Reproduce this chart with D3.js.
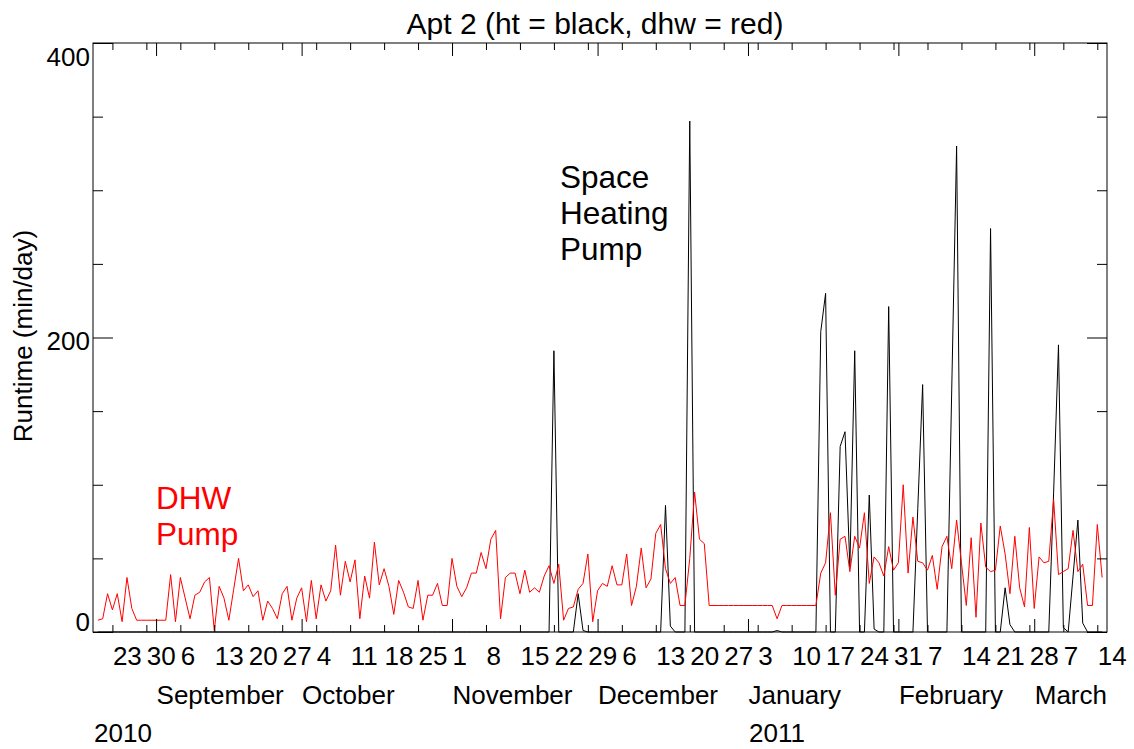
<!DOCTYPE html>
<html>
<head>
<meta charset="utf-8">
<script src="https://cdn.jsdelivr.net/npm/d3@7"></script>
<style>
  html, body { margin: 0; padding: 0; background: #fff; }
  svg { display: block; }
  text { font-family: "Liberation Sans", Arial, Helvetica, sans-serif; }
</style>
</head>
<body>
<svg id="chart" width="1134" height="749"></svg>
<script>
// Daily pump runtime, Apt 2, starting 2010-08-20 (one value per day, min/day)
const firstDay = "2010-08-20";

// Domestic hot water pump (red)
const dhwRuntime = [
  8, 9, 26, 15, 26, 7, 37, 16, 8, 8, 8, 8, 8, 8, 8, 39, 7, 37, 23, 9,
  25, 27, 34, 37, 1, 31, 23, 8, 29, 50, 28, 32, 24, 28, 8, 21, 16, 9, 26, 31,
  8, 23, 30, 7, 35, 9, 32, 21, 28, 59, 25, 48, 34, 49, 9, 38, 23,
  61, 32, 43, 31, 12, 35, 27, 17, 16, 35, 8, 25, 25, 33, 18, 18, 50, 31, 24, 30,
  40, 40, 54, 43, 63, 69, 9, 37, 40, 40, 26, 42, 27, 30, 27, 38, 45, 33, 46, 8,
  16, 17, 29, 33, 53, 7, 28, 33, 31, 45, 32, 32, 53, 18, 31, 57, 30, 36, 67, 73,
  43, 33, 37, 18, 18, 50, 95, 63, 60,
  18, 18, 18, 18, 18, 18, 18, 18, 18, 18, 18, 18, 18, 18,
  9,
  18, 18, 18, 18, 18, 18, 18, 18,
  40, 47, 81, 25, 63, 65, 41, 65, 57, 81, 33, 51, 47, 38, 58, 42, 47, 100, 40, 78,
  48, 47, 42, 52, 29, 58, 65, 43, 76, 47, 18, 64, 10, 74, 44, 41, 42, 72, 53, 26,
  65, 30, 17, 71, 16, 51, 47, 48, 90, 39, 41, 43, 69, 41, 46, 18, 18, 73, 37
];

// Space heating pump (black)
const heatingRuntime = [
  0, 0, 0, 0, 0, 0, 0, 0, 0, 0, 0, 0, 0, 0, 0, 0, 0, 0, 0, 0,
  0, 0, 0, 0, 0, 0, 0, 0, 0, 0, 0, 0, 0, 0, 0, 0, 0, 0, 0, 0,
  0, 0, 0, 0, 0, 0, 0, 0, 0, 0, 0, 0, 0, 0, 0, 0, 0, 0, 0, 0,
  0, 0, 0, 0, 0, 0, 0, 0, 0, 0, 0, 0, 0, 0, 0, 0, 0, 0, 0, 0,
  0, 0, 0, 0, 0, 0, 0, 0, 0, 0, 0, 0, 0, 0, 191, 0, 0, 0, 0, 26,
  1, 0, 0, 0, 0, 0, 0, 0, 0, 0, 0, 0, 0, 0, 0, 0, 0, 86, 4, 0,
  0, 0, 347, 0, 0, 0, 0, 0, 0, 0, 0, 0, 0, 0, 0, 0, 0, 0, 0, 0,
  1, 0, 0, 0, 0, 0, 0, 0, 0, 204, 230, 0, 0, 126, 136, 44, 191, 0, 0, 93,
  2, 0, 0, 221, 0, 0, 0, 0, 0, 84, 168, 0, 0, 0, 0, 0, 165, 330, 0, 0,
  0, 0, 0, 0, 274, 0, 0, 30, 5, 0, 0, 0, 0, 0, 0, 0, 0, 95, 195, 3,
  0, 38, 76, 6, 0, 0, 0, 0
];

// Axis extent and labels
const axisStart = "2010-08-19";
const axisEnd = "2011-03-16";
const weekTicks = [
  "2010-08-23", "2010-08-30", "2010-09-06", "2010-09-13", "2010-09-20", "2010-09-27",
  "2010-10-04", "2010-10-11", "2010-10-18", "2010-10-25", "2010-11-01", "2010-11-08",
  "2010-11-15", "2010-11-22", "2010-11-29", "2010-12-06", "2010-12-13", "2010-12-20",
  "2010-12-27", "2011-01-03", "2011-01-10", "2011-01-17", "2011-01-24", "2011-01-31",
  "2011-02-07", "2011-02-14", "2011-02-21", "2011-02-28", "2011-03-07", "2011-03-14"
];
const monthTicks = ["2010-09-01", "2010-10-01", "2010-11-01", "2010-12-01", "2011-01-01", "2011-02-01", "2011-03-01"];
const monthLabels = ["September", "October", "November", "December", "January", "February", "March"];
const yearTicks = ["2010-08-19", "2011-01-01"];
const yearLabels = ["2010", "2011"];
const yMajorTicks = [0, 200, 400];
const yMinorTicks = [50, 100, 150, 250, 300, 350];

const parse = d3.timeParse("%Y-%m-%d");
const start = parse(firstDay);
const days = dhwRuntime.map((_, i) => d3.timeDay.offset(start, i));

const svg = d3.select("#chart");
svg.append("rect").attr("width", 1134).attr("height", 749).attr("fill", "#fff");

const plotLeft = 93, plotRight = 1107, plotTop = 43, plotBottom = 632;
const x = d3.scaleTime().domain([parse(axisStart), parse(axisEnd)]).range([plotLeft, plotRight]);
const y = d3.scaleLinear().domain([0, 400]).range([plotBottom, plotTop]);

// Data lines
const line = d3.line().x((d, i) => x(days[i])).y(d => y(d));
svg.append("path").datum(heatingRuntime)
  .attr("d", line).attr("fill", "none").attr("stroke", "#000").attr("stroke-width", 1);
svg.append("path").datum(dhwRuntime)
  .attr("d", line).attr("fill", "none").attr("stroke", "#ff0000").attr("stroke-width", 1);

// Frame
svg.append("rect").attr("x", plotLeft).attr("y", plotTop)
  .attr("width", plotRight - plotLeft).attr("height", plotBottom - plotTop)
  .attr("fill", "none").attr("stroke", "#000").attr("stroke-width", 1);

function styleAxis(g) {
  g.select(".domain").remove();
  g.selectAll("line").attr("stroke", "#000");
}

const weeks = weekTicks.map(parse);
const months = monthTicks.map(parse);
const labelFont = "Liberation Sans, Arial, sans-serif";

// Bottom: weekly ticks with day numbers
const gBottom = svg.append("g").attr("transform", `translate(0,${plotBottom})`)
  .call(d3.axisBottom(x).tickValues(weeks).tickSize(-7).tickFormat(d3.timeFormat("%-d")));
styleAxis(gBottom);
gBottom.selectAll("text")
  .attr("y", 33).attr("dy", 0).attr("text-anchor", "start")
  .attr("font-size", 26).attr("font-family", labelFont).attr("fill", "#000");

// Bottom: month boundary ticks and names
const gBottomMonth = svg.append("g").attr("transform", `translate(0,${plotBottom})`)
  .call(d3.axisBottom(x).tickValues(months).tickSize(-13)
    .tickFormat((d, i) => monthLabels[i]));
styleAxis(gBottomMonth);
gBottomMonth.selectAll("text")
  .attr("y", 72).attr("dy", 0).attr("text-anchor", "start")
  .attr("font-size", 26).attr("font-family", labelFont).attr("fill", "#000");

// Year labels
svg.append("g").selectAll("text").data(yearTicks).join("text")
  .attr("x", d => x(parse(d)) + 1).attr("y", plotBottom + 110)
  .attr("font-size", 26).attr("fill", "#000")
  .text((d, i) => yearLabels[i]);

// Top: mirrored ticks without labels
const gTop = svg.append("g").attr("transform", `translate(0,${plotTop})`)
  .call(d3.axisTop(x).tickValues(weeks).tickSize(-7).tickFormat(""));
styleAxis(gTop);
const gTopMonth = svg.append("g").attr("transform", `translate(0,${plotTop})`)
  .call(d3.axisTop(x).tickValues(months).tickSize(-13).tickFormat(""));
styleAxis(gTopMonth);

// Left axis
const gLeft = svg.append("g").attr("transform", `translate(${plotLeft},0)`)
  .call(d3.axisLeft(y).tickValues(yMajorTicks).tickSize(-20).tickPadding(5));
styleAxis(gLeft);
const labelShift = { 0: "-0.04em", 200: "0.46em", 400: "0.85em" };
gLeft.selectAll("text")
  .attr("x", -3).attr("dy", d => labelShift[d])
  .attr("font-size", 26).attr("font-family", labelFont).attr("fill", "#000");
const gLeftMinor = svg.append("g").attr("transform", `translate(${plotLeft},0)`)
  .call(d3.axisLeft(y).tickValues(yMinorTicks).tickSize(-10).tickFormat(""));
styleAxis(gLeftMinor);

// Right axis
const gRight = svg.append("g").attr("transform", `translate(${plotRight},0)`)
  .call(d3.axisRight(y).tickValues(yMajorTicks).tickSize(-20).tickFormat(""));
styleAxis(gRight);
const gRightMinor = svg.append("g").attr("transform", `translate(${plotRight},0)`)
  .call(d3.axisRight(y).tickValues(yMinorTicks).tickSize(-10).tickFormat(""));
styleAxis(gRightMinor);

// Title and axis title
svg.append("text").attr("x", 595).attr("y", 34).attr("text-anchor", "middle")
  .attr("font-size", 30).attr("fill", "#000")
  .text("Apt 2 (ht = black, dhw = red)");
svg.append("text").attr("transform", "translate(32,336) rotate(-90)")
  .attr("text-anchor", "middle").attr("font-size", 26).attr("fill", "#000")
  .text("Runtime (min/day)");

// In-plot annotations
const heatNote = svg.append("text").attr("font-size", 31.5).attr("fill", "#000");
["Space", "Heating", "Pump"].forEach((t, i) =>
  heatNote.append("tspan").attr("x", 560).attr("y", 188 + i * 36).text(t));
const dhwNote = svg.append("text").attr("font-size", 31.5).attr("fill", "#ff0000");
["DHW", "Pump"].forEach((t, i) =>
  dhwNote.append("tspan").attr("x", 156).attr("y", 509 + i * 36).text(t));
</script>
</body>
</html>
